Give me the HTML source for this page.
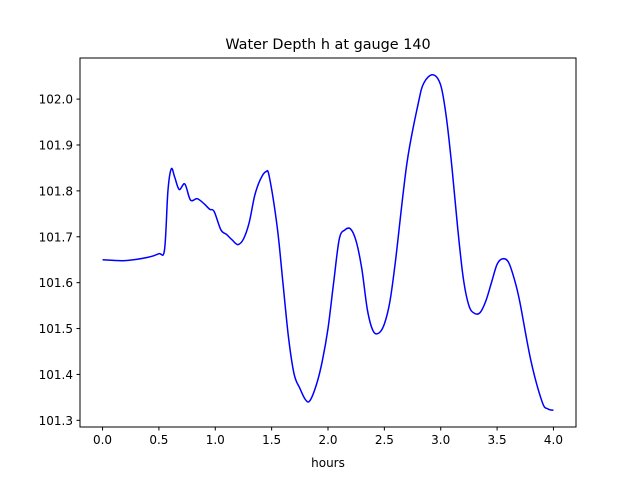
<!DOCTYPE html>
<html><head><meta charset="utf-8"><style>
body{margin:0;background:#fff}
svg text{font-family:"DejaVu Sans","Liberation Sans",sans-serif;fill:#000}
</style></head><body>
<svg id="chart" width="640" height="480" xmlns="http://www.w3.org/2000/svg">
<rect width="640" height="480" fill="#fff"/>
<text x="328" y="49" text-anchor="middle" font-size="14.4">Water Depth h at gauge 140</text>
<g id="plot"></g>
<rect x="80" y="58" width="496" height="369" fill="none" stroke="#000" stroke-width="1"/>
<text x="328" y="467" text-anchor="middle" font-size="12">hours</text>
</svg>
<script>
const times=[0,0.2,0.4,0.5,0.55,0.58,0.61,0.64,0.68,0.73,0.78,0.84,0.9,0.95,0.99,1.05,1.1,1.15,1.2,1.25,1.3,1.35,1.4,1.45,1.48,1.55,1.6,1.65,1.7,1.75,1.8,1.84,1.9,1.95,2.0,2.05,2.1,2.15,2.2,2.25,2.3,2.35,2.4,2.45,2.5,2.55,2.6,2.7,2.8,2.85,2.93,3.0,3.05,3.1,3.15,3.2,3.25,3.3,3.35,3.4,3.45,3.5,3.55,3.6,3.65,3.7,3.8,3.9,3.95,4.0];
const depths=[101.65,101.648,101.655,101.663,101.672,101.80,101.848,101.83,101.803,101.815,101.78,101.783,101.772,101.76,101.755,101.715,101.705,101.693,101.683,101.695,101.73,101.79,101.825,101.842,101.83,101.72,101.6,101.48,101.4,101.37,101.345,101.343,101.38,101.43,101.5,101.6,101.695,101.715,101.717,101.69,101.63,101.54,101.495,101.49,101.51,101.56,101.65,101.86,101.99,102.035,102.053,102.03,101.96,101.85,101.72,101.61,101.55,101.533,101.535,101.56,101.6,101.64,101.652,101.645,101.61,101.56,101.43,101.34,101.325,101.322];
const xTicks=[0,0.5,1,1.5,2,2.5,3,3.5,4];
const xTickLabels=["0.0","0.5","1.0","1.5","2.0","2.5","3.0","3.5","4.0"];
const yTicks=[101.3,101.4,101.5,101.6,101.7,101.8,101.9,102.0];
const yTickLabels=["101.3","101.4","101.5","101.6","101.7","101.8","101.9","102.0"];
const L=80,R=576,T=58,B=427;
const xmin=Math.min(...times),xmax=Math.max(...times),ymin=Math.min(...depths),ymax=Math.max(...depths);
const xlo=xmin-0.05*(xmax-xmin),xhi=xmax+0.05*(xmax-xmin),ylo=ymin-0.05*(ymax-ymin),yhi=ymax+0.05*(ymax-ymin);
const xs=v=>L+(v-xlo)/(xhi-xlo)*(R-L), ys=v=>B-(v-ylo)/(yhi-ylo)*(B-T);
const NS="http://www.w3.org/2000/svg",g=document.getElementById('plot');
function mk(t,a){const e=document.createElementNS(NS,t);for(const k in a)e.setAttribute(k,a[k]);g.appendChild(e);return e;}
xTicks.forEach((v,i)=>{const x=xs(v);
 const l=mk('line',{x1:x,x2:x,y1:B,y2:B+3.5,stroke:'#000'});
 
 
 const t=mk('text',{x:x,y:B+17,'text-anchor':'middle','font-size':12});t.textContent=xTickLabels[i];
 
 });
yTicks.forEach((v,i)=>{const y=ys(v);
 const l=mk('line',{x1:L-3.5,x2:L,y1:y,y2:y,stroke:'#000'});
 
 
 const t=mk('text',{x:L-7,y:y+4.5,'text-anchor':'end','font-size':12});t.textContent=yTickLabels[i];
 
 });
const P=times.map((t,i)=>[xs(t),ys(depths[i])]);
let d='M'+P[0][0]+','+P[0][1];
for(let i=0;i<P.length-1;i++){const p0=P[Math.max(0,i-1)],p1=P[i],p2=P[i+1],p3=P[Math.min(P.length-1,i+2)];
 d+=` C${p1[0]+(p2[0]-p0[0])/6},${p1[1]+(p2[1]-p0[1])/6} ${p2[0]-(p3[0]-p1[0])/6},${p2[1]-(p3[1]-p1[1])/6} ${p2[0]},${p2[1]}`;}
const line=mk('path',{d:d,fill:'none',stroke:'#0000ff','stroke-width':1.5});


</script>
</body></html>
